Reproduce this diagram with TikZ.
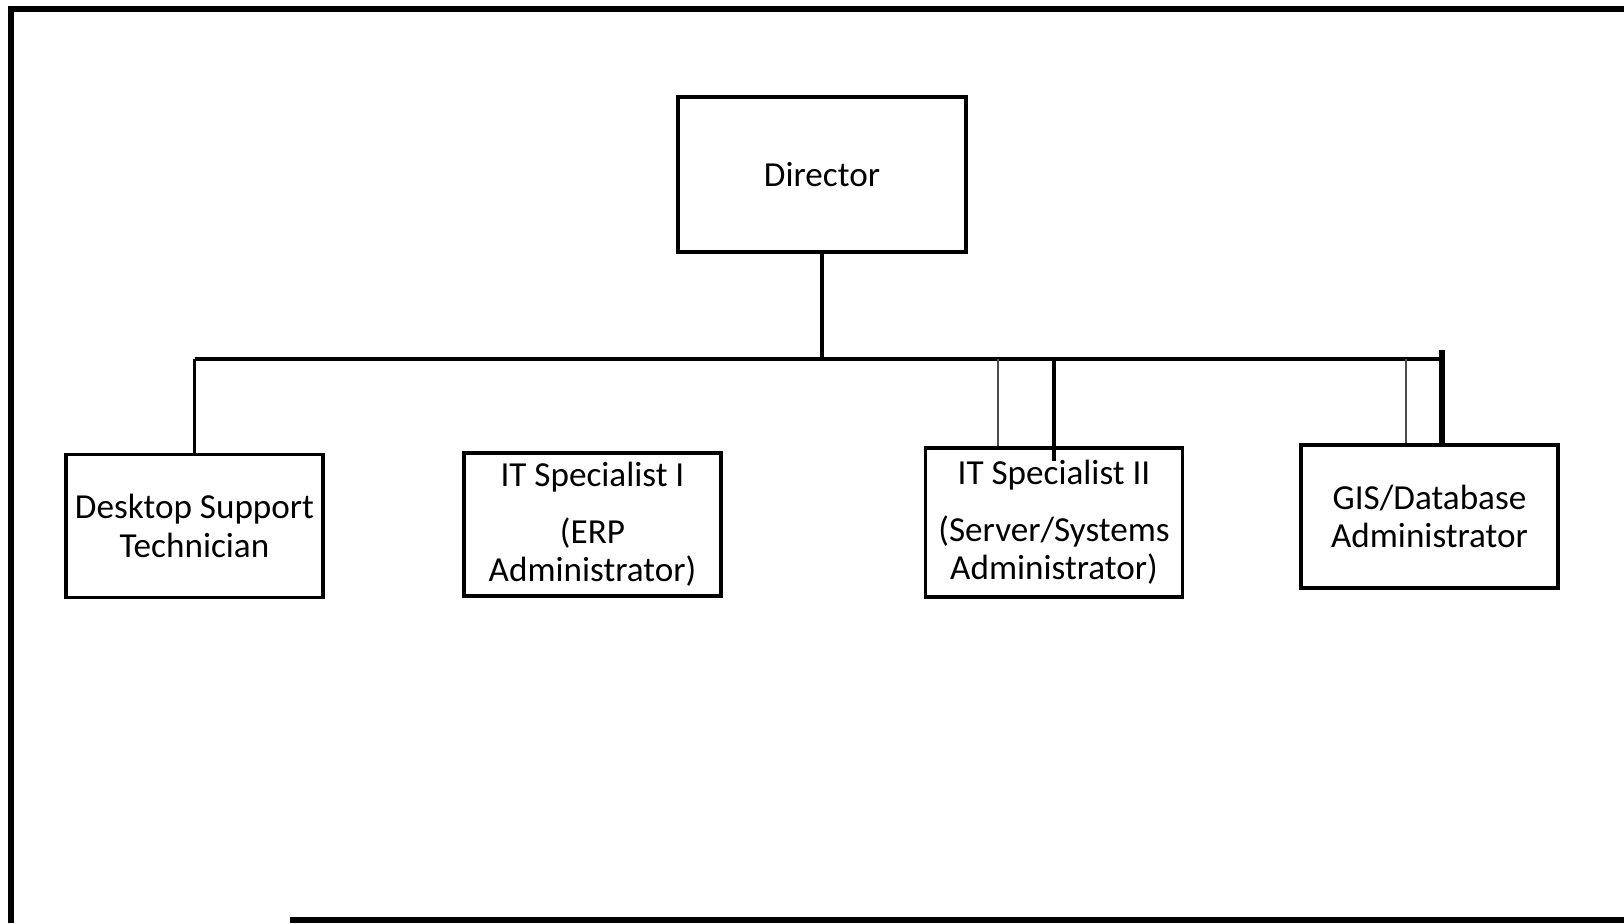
\documentclass[tikz,border=0pt]{standalone}
\usepackage{fontspec}
\setmainfont{Carlito}
\usepackage{tikz}
\usetikzlibrary{positioning}

\begin{document}
\begin{tikzpicture}[
      font=\fontsize{10}{11}\selectfont,
      b/.style={draw, line width=1.1pt, align=center, minimum width=2.57cm,
                minimum height=1.43cm, inner sep=1pt},
      d/.style={b, minimum width=2.88cm, minimum height=1.55cm},
      a/.style={line width=1.1pt},
      ta/.style={line width=1.5pt},
      fa/.style={line width=0.3pt, black!70},
      fr/.style={line width=1.7pt},
    ]
    \useasboundingbox (0,0) rectangle (16.24,-9.23);
    % page frame
    \draw[fr] (16.24,-0.09) -- (0.11,-0.09) -- (0.11,-9.23);
    \draw[fr] (2.9,-9.2) -- (16.24,-9.2);
    % boxes
    \node[d] (dir)   at (8.22,-1.745)  {Director};
    \node[b] (desk)  at (1.945,-5.26)  {Desktop Support\\Technician};
    \node[b] (spec1) at (5.925,-5.245) {IT Specialist I\\[5pt](ERP\\Administrator)};
    \node[b, minimum height=1.49cm] (spec2) at (10.54,-5.225)
                                       {IT Specialist II\\[5pt](Server/Systems\\Administrator)};
    \node[b] (gis)   at (14.295,-5.165) {GIS/Database\\Administrator};
    % bus
    \coordinate (barL) at (desk.north |- 0,-3.59);
    \coordinate (barR) at (14.42,-3.59);
    \coordinate (t2) at ([xshift=-5.6mm]spec2.north);
    \coordinate (tg) at (14.06,-3.59);

    \draw[a] (barL) -- (barR);
    \draw[a] (dir.south) -- (dir.south |- barL);
    \draw[a] (barL) -- (desk.north);
    \draw[a] (spec2.north |- barL) -- ([yshift=-1.5mm]spec2.north);
    \draw[fa] (t2 |- barL) -- (t2);
    \draw[ta] ([yshift=0.9mm]barR) -- (barR |- gis.north);
    \draw[fa] (tg) -- (tg |- gis.north);
\end{tikzpicture}
\end{document}
